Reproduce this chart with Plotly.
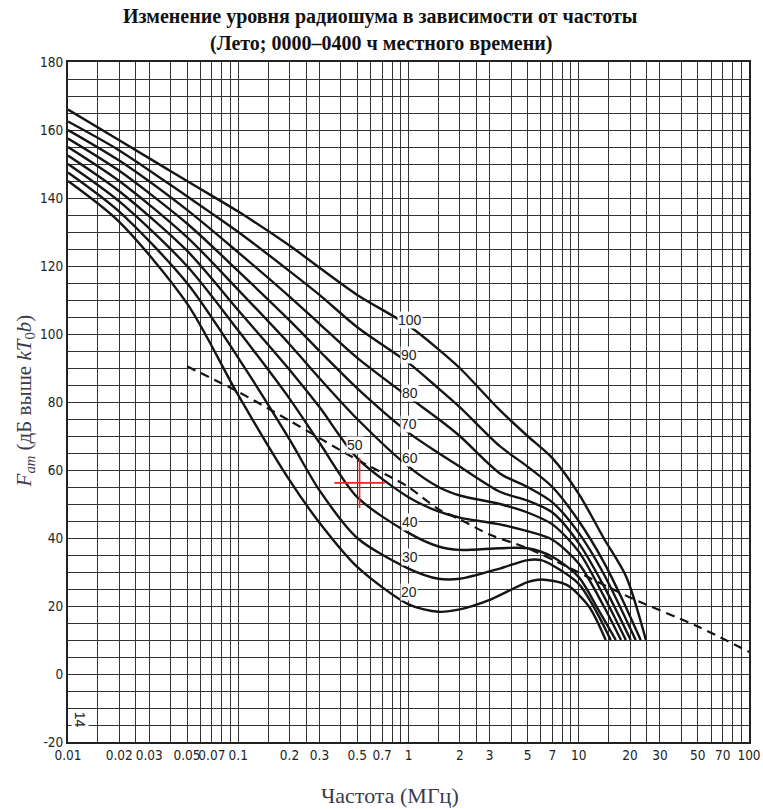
import numpy as np
import plotly.graph_objects as go

# ---- data ----
curve_names = ["20", "30", "40", "50", "60", "70", "80", "90", "100"]

freq_20 = [0.01, 0.02, 0.05, 0.1, 0.2, 0.3, 0.5, 1, 1.5, 2, 3, 5, 6, 8.5, 11.5, 14.4]
fam_20 = [145, 133, 109, 82, 57, 44.5, 31.5, 20.5, 18.3, 19, 21.8, 27, 27.8, 26.2, 19.8, 10]

freq_30 = [0.01, 0.02, 0.05, 0.1, 0.2, 0.3, 0.5, 1, 1.5, 2, 3.44, 5, 6, 7, 10, 12.8, 15.4]
fam_30 = [147.5, 136, 115, 93, 69, 54, 40, 31, 28, 28, 31, 33.5, 33.5, 32, 26.5, 18, 10]

freq_40 = [0.01, 0.02, 0.05, 0.1, 0.2, 0.3, 0.5, 1, 1.5, 2, 3.44, 5, 7, 10, 13, 16.5]
fam_40 = [150, 139, 120, 101, 81, 68, 52, 41.5, 37.5, 36.5, 37, 37, 34.5, 28.5, 19, 10]

freq_50 = [0.01, 0.02, 0.05, 0.1, 0.2, 0.3, 0.5, 1, 1.5, 2, 3.44, 5, 7, 10, 14, 17.7]
fam_50 = [152.5, 142, 124.5, 107, 89.5, 78.5, 63.5, 52, 47.8, 46, 44, 42, 39.5, 32.5, 20, 10]

freq_60 = [0.01, 0.02, 0.05, 0.1, 0.2, 0.3, 0.5, 1, 1.5, 2, 3.44, 5, 7, 10, 14, 18.9]
fam_60 = [155, 145, 128.5, 113, 97, 87, 75, 61, 55, 52.5, 50, 47.5, 44, 36, 23, 10]

freq_70 = [0.01, 0.02, 0.05, 0.1, 0.2, 0.3, 0.5, 1, 1.5, 2, 3.44, 5, 7, 10, 14, 20.2]
fam_70 = [157.5, 148, 132.5, 118.5, 104, 95, 84, 71, 65, 61, 53.6, 51, 47.5, 38.5, 26, 10]

freq_80 = [0.01, 0.02, 0.05, 0.1, 0.2, 0.3, 0.5, 1, 1.5, 2, 3.44, 5, 7, 10, 14, 21.6]
fam_80 = [160, 151, 136.5, 124, 111, 103, 93, 81.5, 75, 70, 59, 55, 50.5, 41.5, 29.5, 10]

freq_90 = [0.01, 0.02, 0.05, 0.1, 0.2, 0.3, 0.5, 1, 1.5, 2, 3.44, 5, 7, 10, 14, 18, 23.1]
fam_90 = [162.5, 154, 140.5, 130, 118.5, 111.5, 102, 91.5, 84, 78.5, 67, 61, 55, 45, 33, 22, 10]

freq_100 = [0.01, 0.02, 0.05, 0.1, 0.2, 0.3, 0.5, 1, 1.5, 2, 3.44, 5, 7, 10, 14, 19, 24.8]
fam_100 = [166, 157, 145, 136, 126, 119.5, 111.5, 102.5, 95.5, 90, 77.6, 70, 63.5, 53, 40, 28.6, 10]

dash_freq = [0.05, 0.1, 0.2, 0.5, 0.78, 1, 1.5, 2, 3, 5, 8.5, 20, 50, 100]
dash_fam = [90.5, 83, 74.5, 63, 58, 55, 48.5, 45.5, 41, 37, 31.6, 22.5, 14, 6.5]

cross_freq = [0.516]
cross_fam = [56.2]

x_tick_values = [0.01, 0.02, 0.03, 0.05, 0.07, 0.1, 0.2, 0.3, 0.5, 0.7, 1, 2, 3, 5, 7,
                 10, 20, 30, 50, 70, 100]
x_tick_labels = ["0.01", "0.02", "0.03", "0.05", "0.07", "0.1", "0.2", "0.3", "0.5", "0.7",
                 "1", "2", "3", "5", "7", "10", "20", "30", "50", "70", "100"]
y_tick_values = [-20, 0, 20, 40, 60, 80, 100, 120, 140, 160, 180]
y_tick_labels = ["-20", "0", "20", "40", "60", "80", "100", "120", "140", "160", "180"]

title_line1 = "<b>Изменение уровня радиошума в зависимости от частоты</b>"
title_line2 = "<b>(Лето; 0000–0400 ч местного времени)</b>"
x_title = "Частота (МГц)"
y_title = "<i>F</i><sub><i>am</i></sub> (дБ выше <i>kT</i><sub>0</sub><i>b</i>)"
figure_number = "14"

# ---- figure ----
curves = [(freq_20, fam_20), (freq_30, fam_30), (freq_40, fam_40), (freq_50, fam_50),
          (freq_60, fam_60), (freq_70, fam_70), (freq_80, fam_80), (freq_90, fam_90),
          (freq_100, fam_100)]

fig = go.Figure()
for name, (fx, fy) in zip(curve_names, curves):
    fig.add_trace(go.Scatter(x=fx, y=fy, mode="lines", name=name,
                             line=dict(color="#151515", width=2.4, shape="spline", smoothing=0.8),
                             showlegend=False, hoverinfo="skip"))

fig.add_trace(go.Scatter(x=dash_freq, y=dash_fam, mode="lines",
                         line=dict(color="#151515", width=2.2, dash="9px,6px",
                                   shape="spline", smoothing=0.8),
                         showlegend=False, hoverinfo="skip"))

fig.add_trace(go.Scatter(x=cross_freq, y=cross_fam, mode="markers",
                         marker=dict(symbol="cross-thin", size=36,
                                     line=dict(color="#ff2020", width=1.6)),
                         showlegend=False, hoverinfo="skip"))

# grid positions: 1,1.5,2,2.5,3..9 per decade
grid_mult = [1, 1.5, 2, 2.5, 3, 4, 5, 6, 7, 8, 9]
x_grid = [m * 10.0 ** k for k in range(-2, 2) for m in grid_mult] + [100]
lab_map = {round(v, 6): t for v, t in zip(x_tick_values, x_tick_labels)}
x_text = [lab_map.get(round(v, 6), " ") for v in x_grid]

y_grid = list(range(-20, 181, 5))
ylab_map = dict(zip(y_tick_values, y_tick_labels))
y_text = [ylab_map.get(v, " ") for v in y_grid]

tick_font = dict(family="Liberation Sans Narrow, DejaVu Sans Condensed, Arial Narrow, sans-serif",
                 size=13.5, color="#222")

fig.update_xaxes(type="log", range=[-2, 2], tickmode="array", tickvals=x_grid, ticktext=x_text,
                 tickangle=0, automargin=False, showgrid=True, gridcolor="#333333", gridwidth=1.4,
                 zeroline=False, showline=True, linecolor="#222", linewidth=2, mirror=True,
                 ticks="", tickfont=tick_font)
fig.update_yaxes(range=[-20, 180], tickmode="array", tickvals=y_grid, ticktext=y_text,
                 automargin=False, showgrid=True, gridcolor="#333333", gridwidth=1.4,
                 zeroline=False, showline=True, linecolor="#222", linewidth=2, mirror=True,
                 ticks="", tickfont=tick_font)

# curve labels
label_pos = {"100": (1.02, 104.1), "90": (1.0, 93.8), "80": (1.02, 82.6), "70": (1.0, 73.5),
             "60": (1.02, 63.5), "50": (0.485, 67.4), "40": (1.02, 44.7), "30": (1.02, 34.4),
             "20": (1.0, 24.1)}
for name in curve_names:
    lx, ly = label_pos[name]
    fig.add_annotation(x=np.log10(lx), y=ly, text=name, showarrow=False,
                       font=dict(family="Liberation Sans, Arial, sans-serif", size=14, color="#222"),
                       bgcolor="white", borderpad=0)

fig.add_annotation(x=np.log10(0.0118), y=-13.5, text=figure_number, showarrow=False,
                   textangle=90, font=dict(family="Liberation Sans, sans-serif", size=14, color="#222"),
                   bgcolor="white", borderpad=0)

serif = "Liberation Serif, Times New Roman, serif"
fig.add_annotation(xref="paper", yref="paper", x=0.4596, y=1.0662, text=title_line1,
                   showarrow=False, xanchor="center", yanchor="middle",
                   font=dict(family=serif, size=20, color="#111"))
fig.add_annotation(xref="paper", yref="paper", x=0.4596, y=1.0279, text=title_line2,
                   showarrow=False, xanchor="center", yanchor="middle",
                   font=dict(family=serif, size=20, color="#111"))
fig.add_annotation(xref="paper", yref="paper", x=0.473, y=-0.078, text=x_title, showarrow=False,
                   xanchor="center", yanchor="middle",
                   font=dict(family=serif, size=22, color="#3a3a4a"))
fig.add_annotation(xref="paper", yref="paper", x=-0.063, y=0.501, text=y_title, showarrow=False,
                   xanchor="center", yanchor="middle",
                   textangle=-90, font=dict(family=serif, size=21, color="#3a3a4a"))

fig.update_layout(
    width=763, height=809,
    margin=dict(l=68, r=14, t=62, b=67, autoexpand=False),
    paper_bgcolor="white", plot_bgcolor="white",
)

fig.write_html("out.html")
